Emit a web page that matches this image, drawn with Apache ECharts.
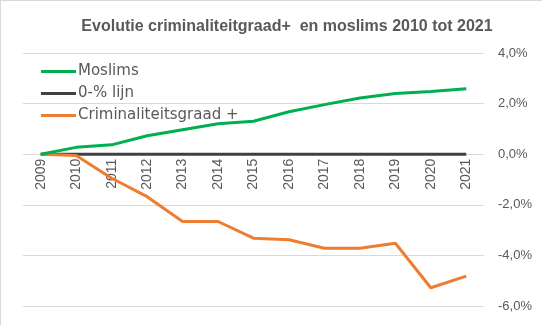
<!DOCTYPE html>
<html><head><meta charset="utf-8">
<script src="https://cdn.jsdelivr.net/npm/echarts@6/dist/echarts.min.js"></script>
<style>
html,body{margin:0;padding:0;background:#fff;}
#c{width:542px;height:325px;box-sizing:border-box;border-left:1px solid #d9d9d9;border-top:1px solid #d9d9d9;}
</style></head>
<body><div id="c"></div>
<script>
const years = ['2009','2010','2011','2012','2013','2014','2015','2016','2017','2018','2019','2020','2021'];
const moslims = [0, 0.27, 0.37, 0.73, 0.97, 1.2, 1.3, 1.68, 1.96, 2.22, 2.4, 2.48, 2.59];
const nulLijn = [0,0,0,0,0,0,0,0,0,0,0,0,0];
const criminaliteit = [0, -0.05, -0.95, -1.68, -2.66, -2.66, -3.32, -3.38, -3.72, -3.72, -3.52, -5.28, -4.82];
const titleText = 'Evolutie criminaliteitgraad+  en moslims 2010 tot 2021';
const yMin = -6, yMax = 4;

const H = 325, gridTop = 52, gridBottom = 19;
const plotH = H - gridTop - gridBottom;
// place the category axis (and its labels) at the zero value
const zeroOffset = -plotH * (0 - yMin) / (yMax - yMin);

const chart = echarts.init(document.getElementById('c'));
const txt = '#595959';
const mk = (name, data, color) => ({
  name, type: 'line', data, symbol: 'none', showSymbol: false,
  lineStyle: {color, width: 3}, itemStyle: {color}, animation: false
});
chart.setOption({
  animation: false,
  title: {
    text: titleText, left: 281, top: 13, textAlign: 'center',
    textStyle: {fontFamily: 'Liberation Sans', fontWeight: 'bold', fontSize: 16, color: txt}
  },
  legend: {
    orient: 'vertical', left: 35, top: 58, itemWidth: 35, itemHeight: 3, itemGap: 7,
    icon: 'rect',
    textStyle: {fontFamily: 'DejaVu Sans', fontSize: 15, color: txt, padding: [0,0,0,-3]},
    data: ['Moslims', '0-% lijn', 'Criminaliteitsgraad +']
  },
  grid: {left: 22, right: 58, top: gridTop, bottom: gridBottom, containLabel: false, outerBoundsMode: 'none'},
  xAxis: {
    type: 'category', data: years, boundaryGap: true, position: 'bottom', offset: zeroOffset,
    axisLine: {show: false, onZero: false},
    axisTick: {show: false},
    axisLabel: {rotate: 90, margin: 5, fontFamily: 'Liberation Sans', fontSize: 14, color: txt}
  },
  yAxis: {
    type: 'value', position: 'right', min: yMin, max: yMax, interval: 2,
    axisLine: {show: false}, axisTick: {show: false},
    splitLine: {lineStyle: {color: '#d9d9d9', width: 1}},
    axisLabel: {
      margin: 14, fontFamily: 'Liberation Sans', fontSize: 13, color: txt,
      formatter: v => v.toFixed(1).replace('.', ',') + '%'
    }
  },
  series: [
    mk('0-% lijn', nulLijn, '#404040'),
    mk('Criminaliteitsgraad +', criminaliteit, '#ED7D31'),
    mk('Moslims', moslims, '#00B050')
  ]
});
</script></body></html>
